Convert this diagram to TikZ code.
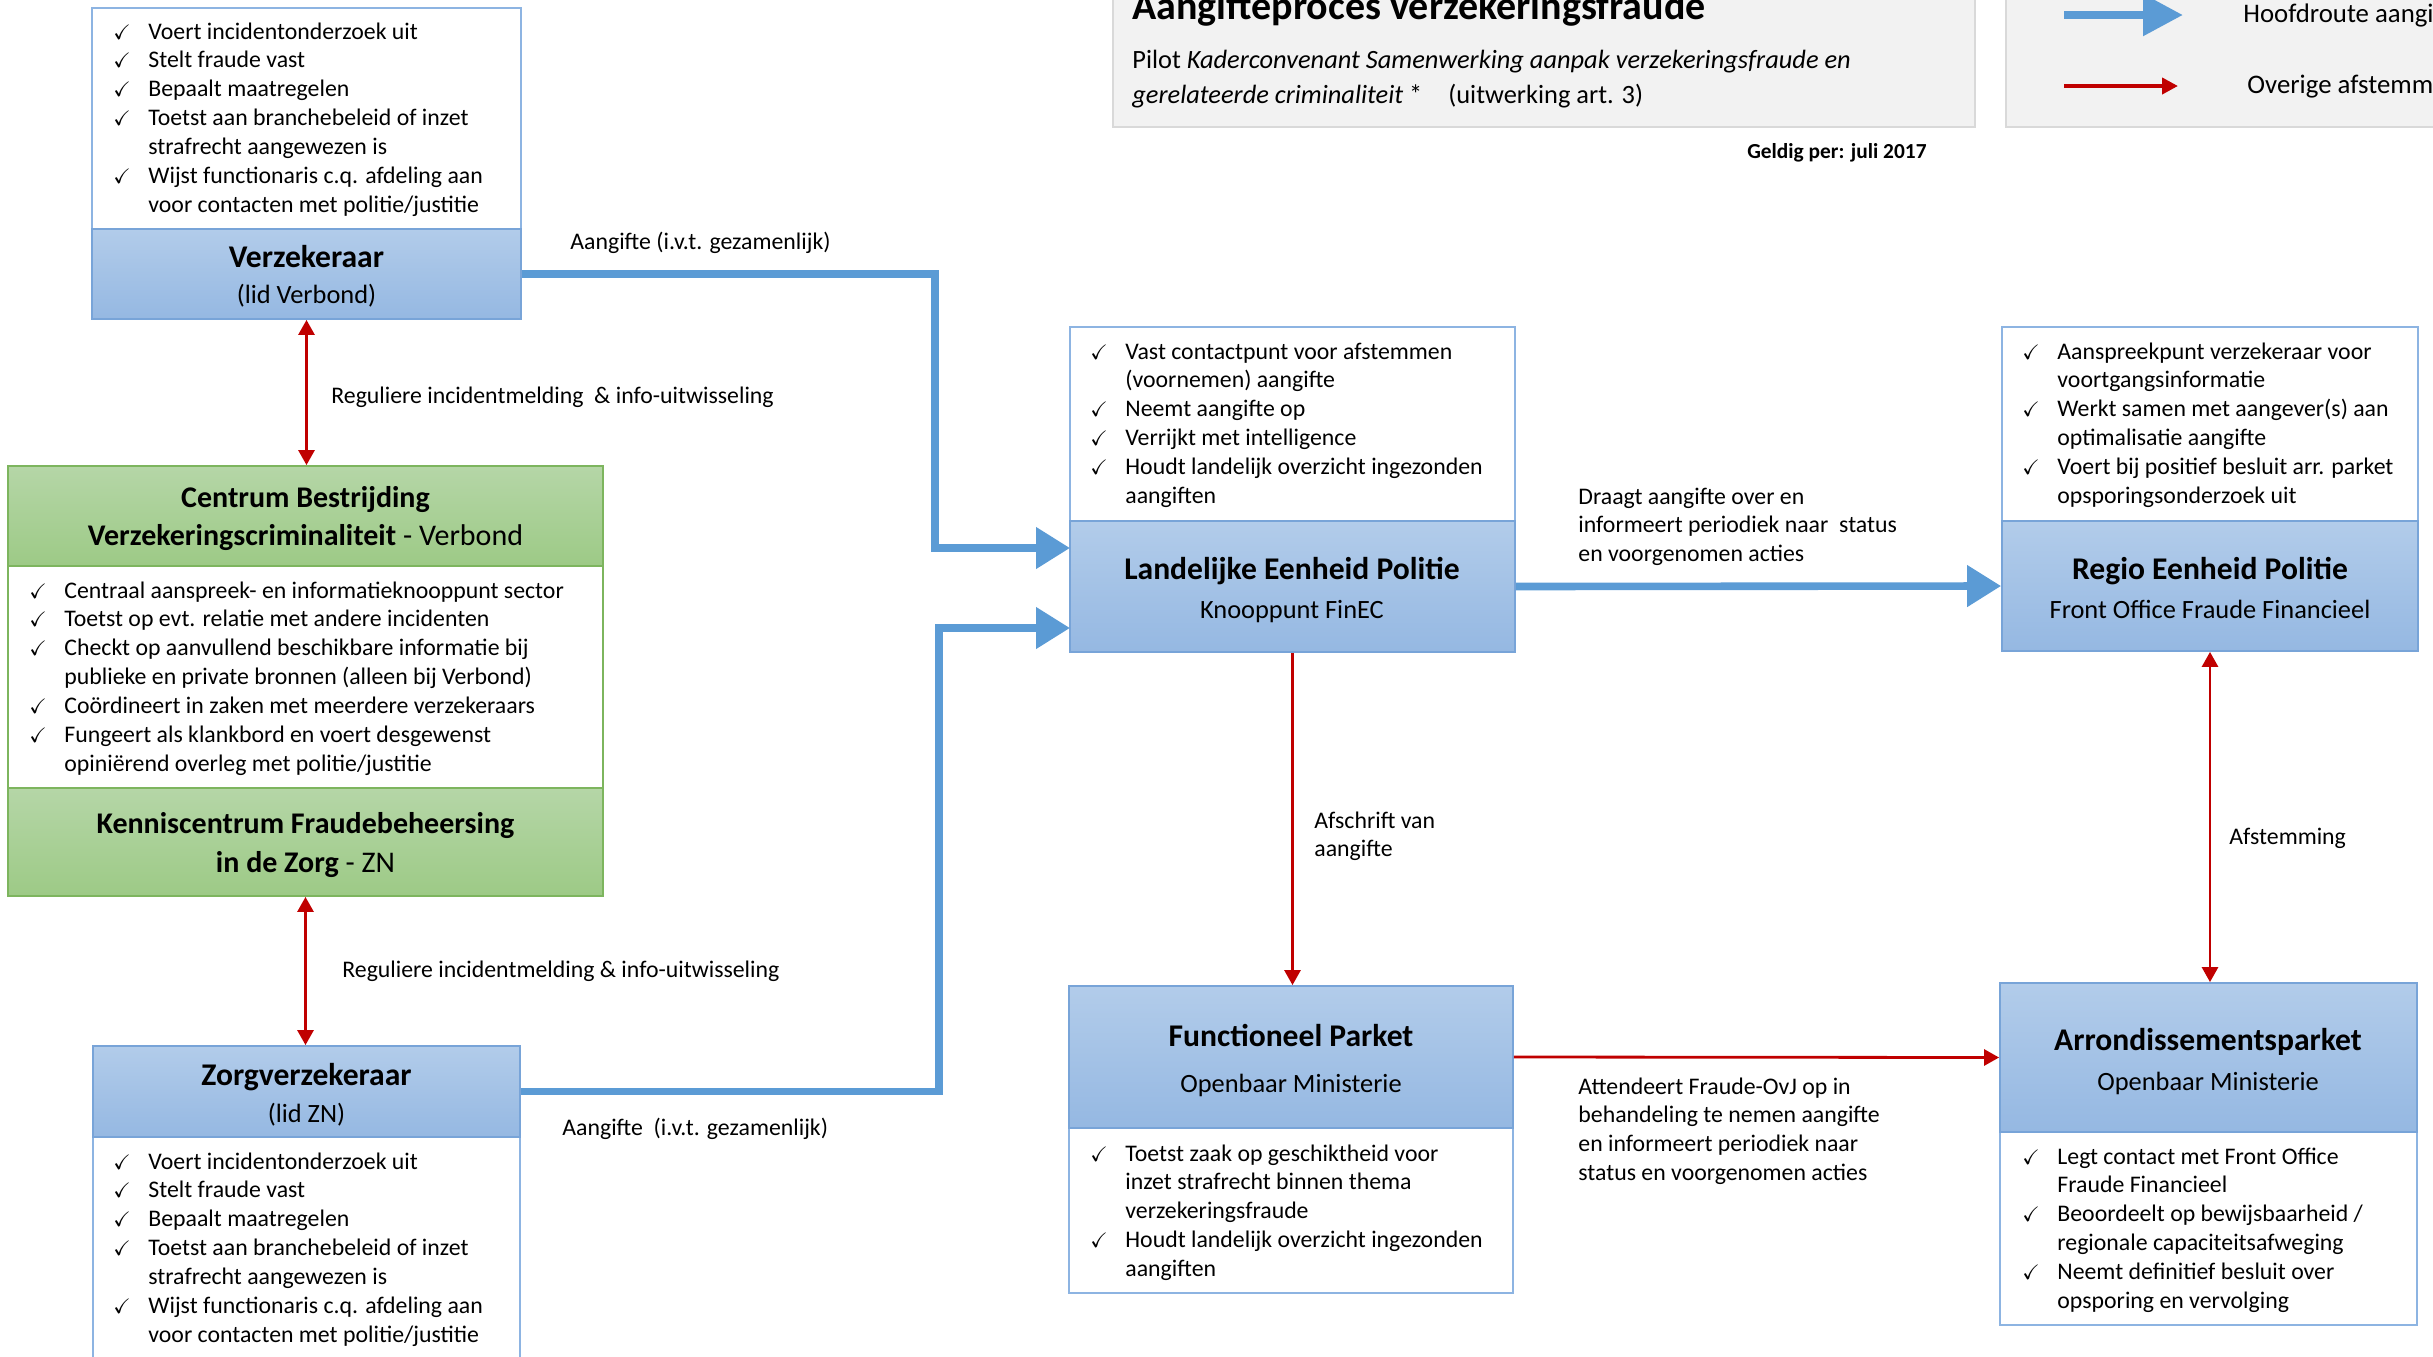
\documentclass[tikz,border=0pt]{standalone}
\usepackage{fontspec}
\setmainfont{Carlito}
\usepackage{amssymb}
\usetikzlibrary{arrows.meta,fit}
\definecolor{bluetop}{HTML}{B2CCEA}
\definecolor{bluebot}{HTML}{95B8E2}
\definecolor{blueedge}{HTML}{78A4D8}
\definecolor{wedge}{HTML}{8DB4E2}
\definecolor{greentop}{HTML}{B5D6A7}
\definecolor{greenbot}{HTML}{9DCA86}
\definecolor{greenedge}{HTML}{7DB55E}
\definecolor{arrowblue}{HTML}{5B9BD5}
\definecolor{arrowred}{HTML}{C00000}
\definecolor{boxgray}{HTML}{F2F2F2}
\definecolor{boxedge}{HTML}{D9D9D9}
\newcommand\ckitem[1]{\hangindent=17.5pt\hangafter=1\noindent\makebox[17.5pt][l]{\fontsize{10.5}{10}\selectfont\checkmark}#1\par}
\newcommand\lst[1]{\parbox[t]{500pt}{\hyphenpenalty=10000\exhyphenpenalty=10000 #1}}
\begin{document}
\begin{tikzpicture}[x=0.5pt,y=-0.5pt,
  hdrB/.style={draw=blueedge, line width=0.9pt, top color=bluetop, bottom color=bluebot, inner sep=0},
  hdrG/.style={draw=greenedge, line width=0.9pt, top color=greentop, bottom color=greenbot, inner sep=0},
  wbB/.style={draw=wedge, line width=0.7pt, fill=white, inner sep=0},
  wbG/.style={draw=greenedge, line width=0.7pt, fill=white, inner sep=0},
  mainarrow/.style={draw=arrowblue, line width=3.8pt, -{Triangle[length=17pt,width=20pt]}},
  secarrow/.style={draw=arrowred, line width=1.4pt, -{Triangle[length=7.5pt,width=8pt]}},
  secboth/.style={draw=arrowred, line width=1.4pt, {Triangle[length=7.5pt,width=8pt]}-{Triangle[length=7.5pt,width=8pt]}},
  txt/.style={inner sep=0, anchor=base west, font=\fontsize{11.9}{14.45}\selectfont},
  ttl/.style={inner sep=0, anchor=base, font=\fontsize{15.8}{19}\selectfont\bfseries},
  ttlg/.style={inner sep=0, anchor=base, font=\fontsize{15}{19}\selectfont},
  subt/.style={inner sep=0, anchor=base, font=\fontsize{13.2}{16}\selectfont}]
\useasboundingbox (0,0) rectangle (2433,1356);
\clip (0,0) rectangle (2433,1356);

% title and legend boxes
\node[fill=boxgray, draw=boxedge, line width=0.8pt, inner sep=0, fit={(1113,-20)(1975,127)}] (tb) {};
\node[fill=boxgray, draw=boxedge, line width=0.8pt, inner sep=0, fit={(2006,-20)(2470,127)}] (lb) {};
\node[anchor=base west, inner sep=0, font=\fontsize{20}{24}\selectfont\bfseries] (t1) at (1132,19) {Aangifteproces verzekeringsfraude};
\node[anchor=base west, inner sep=0, font=\fontsize{13.2}{15}\selectfont] (t2) at (1132,68) {Pilot \textit{Kaderconvenant Samenwerking aanpak verzekeringsfraude en}};
\node[anchor=base west, inner sep=0, font=\fontsize{13.2}{15}\selectfont] (t3) at (1132,103) {\textit{gerelateerde criminaliteit} *\hspace{13pt}(uitwerking art. 3)};
\node[anchor=base east, inner sep=0, font=\fontsize{10.7}{13}\selectfont\bfseries] (gd) at (1927,158) {Geldig per: juli 2017};

\coordinate (la1) at (2064,15);
\coordinate (la2) at (2183,15);
\draw[draw=arrowblue, line width=4.3pt, -{Triangle[length=20pt,width=20pt]}] (la1) -- (la2);
\node[anchor=base west, inner sep=0, font=\fontsize{13.4}{17}\selectfont] (lt1) at (2243,22) {Hoofdroute aangifte};
\coordinate (lr1) at (2064,86);
\coordinate (lr2) at (2178,86);
\draw[draw=arrowred, line width=2pt, -{Triangle[length=8pt,width=8pt]}] (lr1) -- (lr2);
\node[anchor=base west, inner sep=0, font=\fontsize{13.4}{17}\selectfont] (lt2) at (2247,93) {Overige afstemming};

% boxes
\node[wbB, fit={(92,8)(521,229)}] (vzw) {};
\node[hdrB, fit={(92,229)(521,319)}] (vz) {};
\node[wbG, fit={(8,566)(603,788)}] (cbw) {};
\node[hdrG, fit={(8,466)(603,566)}] (cb) {};
\node[hdrG, fit={(8,788)(603,896)}] (kc) {};
\node[wbB, fit={(93,1137)(520,1420)}] (zvw) {};
\node[hdrB, fit={(93,1046)(520,1137)}] (zv) {};
\node[wbB, fit={(1070,327)(1515,521)}] (lepw) {};
\node[hdrB, fit={(1070,521)(1515,652)}] (lep) {};
\node[wbB, fit={(2002,327)(2418,521)}] (rgw) {};
\node[hdrB, fit={(2002,521)(2418,651)}] (rg) {};
\node[wbB, fit={(1069,1128)(1513,1293)}] (fpw) {};
\node[hdrB, fit={(1069,986)(1513,1128)}] (fp) {};
\node[wbB, fit={(2000,1132)(2417,1325)}] (arw) {};
\node[hdrB, fit={(2000,983)(2417,1132)}] (ar) {};

% titles
\node[ttl] (vzt) at (306.5,267) {Verzekeraar};
\node[subt] (vzs) at (306.5,303) {(lid Verbond)};
\node[ttlg] (cbt1) at (305.5,507) {\bfseries Centrum Bestrijding};
\node[ttlg] (cbt2) at (305.5,545) {\textbf{Verzekeringscriminaliteit} - Verbond};
\node[ttlg] (kct1) at (305.5,833) {\bfseries Kenniscentrum Fraudebeheersing};
\node[ttlg] (kct2) at (305.5,872) {\textbf{in de Zorg} - ZN};
\node[ttl] (zvt) at (306.5,1085) {Zorgverzekeraar};
\node[subt] (zvs) at (306.5,1122) {(lid ZN)};
\node[ttl] (lept) at (1292,579) {Landelijke Eenheid Politie};
\node[subt] (leps) at (1292,618) {Knooppunt FinEC};
\node[ttl] (rgt) at (2210,579) {Regio Eenheid Politie};
\node[subt] (rgs) at (2210,618) {Front Office Fraude Financieel};
\node[ttl] (fpt) at (1291,1046) {Functioneel Parket};
\node[subt] (fps) at (1291,1092) {Openbaar Ministerie};
\node[ttl] (art) at (2208,1050) {Arrondissementsparket};
\node[subt] (ars) at (2208,1090) {Openbaar Ministerie};

% lists
\node[txt] (vzl) at (113,39) {\lst{%
\ckitem{Voert incidentonderzoek uit}
\ckitem{Stelt fraude vast}
\ckitem{Bepaalt maatregelen}
\ckitem{Toetst aan branchebeleid of inzet\\strafrecht aangewezen is}
\ckitem{Wijst functionaris c.q. afdeling aan\\voor contacten met politie/justitie}}};
\node[txt] (cbl) at (29,598) {\lst{%
\ckitem{Centraal aanspreek- en informatieknooppunt sector}
\ckitem{Toetst op evt. relatie met andere incidenten}
\ckitem{Checkt op aanvullend beschikbare informatie bij\\publieke en private bronnen (alleen bij Verbond)}
\ckitem{Coördineert in zaken met meerdere verzekeraars}
\ckitem{Fungeert als klankbord en voert desgewenst\\opiniërend overleg met politie/justitie}}};
\node[txt] (zvl) at (113,1169) {\lst{%
\ckitem{Voert incidentonderzoek uit}
\ckitem{Stelt fraude vast}
\ckitem{Bepaalt maatregelen}
\ckitem{Toetst aan branchebeleid of inzet\\strafrecht aangewezen is}
\ckitem{Wijst functionaris c.q. afdeling aan\\voor contacten met politie/justitie}}};
\node[txt] (lepl) at (1090,359) {\lst{%
\ckitem{Vast contactpunt voor afstemmen\\(voornemen) aangifte}
\ckitem{Neemt aangifte op}
\ckitem{Verrijkt met intelligence}
\ckitem{Houdt landelijk overzicht ingezonden\\aangiften}}};
\node[txt] (rgl) at (2022,359) {\lst{%
\ckitem{Aanspreekpunt verzekeraar voor\\voortgangsinformatie}
\ckitem{Werkt samen met aangever(s) aan\\optimalisatie aangifte}
\ckitem{Voert bij positief besluit arr. parket\\opsporingsonderzoek uit}}};
\node[txt] (fpl) at (1090,1161) {\lst{%
\ckitem{Toetst zaak op geschiktheid voor\\inzet strafrecht binnen thema\\verzekeringsfraude}
\ckitem{Houdt landelijk overzicht ingezonden\\aangiften}}};
\node[txt] (arl) at (2022,1164) {\lst{%
\ckitem{Legt contact met Front Office\\Fraude Financieel}
\ckitem{Beoordeelt op bewijsbaarheid /\\regionale capaciteitsafweging}
\ckitem{Neemt definitief besluit over\\opsporing en vervolging}}};

% connectors
\coordinate (c1) at (935,548);
\coordinate (li1) at (1070,548);
\coordinate (c2) at (939,628);
\coordinate (li2) at (1070,628);
\draw[mainarrow] (vz.east) -| (c1) -- (li1);
\draw[mainarrow] (zv.east) -| (c2) -- (li2);
\draw[mainarrow] (lep.east) -- (rg.west);
\draw[secarrow] (lep.south) -- (lep.south |- fp.north);
\draw[secarrow] (fp.east) -- (ar.west);
\draw[secboth] (rg.south) -- (rg.south |- ar.north);
\draw[secboth] (vz.south) -- (vz.south |- cb.north);
\draw[secboth] (kc.south) -- (kc.south |- zv.north);

% connector labels
\node[txt] (l1) at (570,249) {Aangifte (i.v.t. gezamenlijk)};
\node[txt] (l2) at (331,403) {Reguliere incidentmelding\ \ \& info-uitwisseling};
\node[txt] (l3) at (342,977) {Reguliere incidentmelding \& info-uitwisseling};
\node[txt] (l4) at (562,1135) {Aangifte\ \ (i.v.t. gezamenlijk)};
\node[txt] (l5) at (1578,504) {\lst{Draagt aangifte over en\\informeert periodiek naar\ \ status\\en voorgenomen acties}};
\node[txt] (l6) at (1314,828) {\lst{Afschrift van\\aangifte}};
\node[txt] (l7) at (2229,844) {Afstemming};
\node[txt] (l8) at (1578,1094) {\lst{Attendeert Fraude-OvJ op in\\behandeling te nemen aangifte\\en informeert periodiek naar\\status en voorgenomen acties}};
\end{tikzpicture}
\end{document}
